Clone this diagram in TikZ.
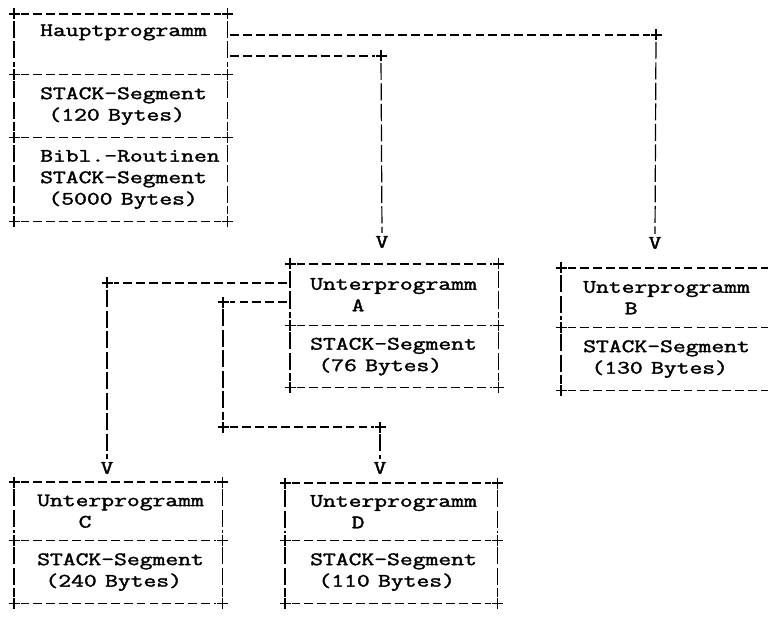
\documentclass[tikz,border=0pt]{standalone}
\usepackage{graphicx}
\hfuzz=500pt \vfuzz=500pt \hbadness=10000 \vbadness=10000
\newcommand\sx[1]{\special{pdf:literal direct 2 Tr 0.3 w}\scalebox{1.31}[1]{#1}\special{pdf:literal direct 0 Tr}}
\newcommand\twf{\fontsize{19}{21.5}\selectfont\ttfamily}
\tikzset{
  seg/.style={draw=none, inner ysep=0pt, align=left, font=\twf, anchor=north west},
  hl/.style={line width=1.3pt, dash pattern=on 8.8pt off 4.1pt, shorten <=6.5pt, shorten >=6.5pt},
  vl/.style={line width=1.2pt, dash pattern=on 17pt off 3.5pt, shorten <=7pt, shorten >=7pt},
  arrowv/.style={font=\twf, inner sep=0pt},
  crs/.pic={\draw[line width=1.3pt] (-5.5,0) -- (5.5,0) (0,-5.5) -- (0,5.5);}
}
\newcommand\twoframe[2]{%
  \draw[hl] (#1.north west) -- (#1.north east);
  \draw[hl] (#2.north west) -- (#2.north east);
  \draw[hl] (#2.south west) -- (#2.south east);
  \draw[vl] (#1.north west) -- (#1.south west);
  \draw[vl] (#1.north east) -- (#1.south east);
  \draw[vl] (#2.north west) -- (#2.south west);
  \draw[vl] (#2.north east) -- (#2.south east);
  \foreach \q in {#1.north west,#1.north east,#2.north west,#2.north east,#2.south west,#2.south east}
    \pic at (\q) {crs};
}
\begin{document}
\begin{tikzpicture}[x=1pt,y=-1pt]
\useasboundingbox (0,0) rectangle (770,617);

% Hauptprogramm box
\node[seg, minimum height=60pt, text width=161pt, inner xsep=26pt] (M1) at (14,14) {\sx{Hauptprogramm}\\\strut};
\node[seg, minimum height=63pt, text width=161pt, inner xsep=26pt] (M2) at (M1.south west) {\sx{STACK-Segment}\\\sx{\ (120 Bytes)}};
\node[seg, minimum height=83pt, text width=161pt, inner xsep=26pt] (M3) at (M2.south west) {\sx{Bibl.-Routinen}\\\sx{STACK-Segment}\\\sx{\ (5000 Bytes)}};
\twoframe{M1}{M2}
\draw[hl] (M3.south west) -- (M3.south east);
\draw[vl] (M3.north west) -- (M3.south west);
\draw[vl] (M3.north east) -- (M3.south east);
\pic at (M3.south west) {crs};
\pic at (M3.south east) {crs};

% Unterprogramm A
\node[seg, minimum height=61pt, text width=168pt, inner xsep=20pt] (A1) at (290,264) {\sx{Unterprogramm}\\\sx{\ \ \ \ \ A}};
\node[seg, minimum height=62pt, text width=168pt, inner xsep=20pt] (A2) at (A1.south west) {\sx{STACK-Segment}\\\sx{\ (76 Bytes)}};
\twoframe{A1}{A2}

% Unterprogramm B (cut at right edge)
\node[seg, minimum height=59pt, text width=169pt, inner xsep=22pt] (B1) at (561,268) {\sx{Unterprogramm}\\\sx{\ \ \ \ \ B}};
\node[seg, minimum height=63pt, text width=169pt, inner xsep=22pt] (B2) at (B1.south west) {\sx{STACK-Segment}\\\sx{\ (130 Bytes)}};
\draw[hl] (B1.north west) -- (B1.north east);
\draw[hl] (B2.north west) -- (B2.north east);
\draw[hl] (B2.south west) -- (B2.south east);
\draw[vl] (B1.north west) -- (B1.south west);
\draw[vl] (B2.north west) -- (B2.south west);
\foreach \q in {B1.north west,B2.north west,B2.south west} \pic at (\q) {crs};

% Unterprogramm C
\node[seg, minimum height=58pt, text width=162pt, inner xsep=23pt] (C1) at (14,482) {\sx{Unterprogramm}\\\sx{\ \ \ \ \ C}};
\node[seg, minimum height=63pt, text width=162pt, inner xsep=23pt] (C2) at (C1.south west) {\sx{STACK-Segment}\\\sx{\ (240 Bytes)}};
\twoframe{C1}{C2}

% Unterprogramm D
\node[seg, minimum height=57pt, text width=162pt, inner xsep=25pt] (D1) at (285,483) {\sx{Unterprogramm}\\\sx{\ \ \ \ \ D}};
\node[seg, minimum height=63pt, text width=162pt, inner xsep=25pt] (D2) at (D1.south west) {\sx{STACK-Segment}\\\sx{\ (110 Bytes)}};
\twoframe{D1}{D2}

% arrowheads
\node[arrowv] (vA) at (382,242) {\sx{V}};
\node[arrowv] (vB) at (655,243) {\sx{V}};
\node[arrowv] (vC) at (107,468) {\sx{V}};
\node[arrowv] (vD) at (380,468) {\sx{V}};

% connectors
\coordinate (kB) at (656,35);
\coordinate (kA) at (381,56);
\coordinate (kC) at (107,283);
\coordinate (kD1) at (223,302);
\coordinate (kD2) at (223,427);
\coordinate (kD3) at (380,427);

\draw[hl, shorten <=3pt] (M1.east |- kB) -- (kB);
\draw[vl, shorten >=3pt] (kB) -- (vB.north);
\draw[hl, shorten <=3pt] (M1.east |- kA) -- (kA);
\draw[vl, shorten >=3pt] (kA) -- (vA.north);
\draw[hl, shorten <=3pt] (A1.west |- kC) -- (kC);
\draw[vl, shorten >=3pt] (kC) -- (vC.north);
\draw[hl, shorten <=3pt] (A1.west |- kD1) -- (kD1);
\draw[vl] (kD1) -- (kD2);
\draw[hl] (kD2) -- (kD3);
\draw[vl, shorten >=3pt] (kD3) -- (vD.north);
\foreach \q in {kA,kB,kC,kD1,kD2,kD3} \pic at (\q) {crs};
\end{tikzpicture}
\end{document}
